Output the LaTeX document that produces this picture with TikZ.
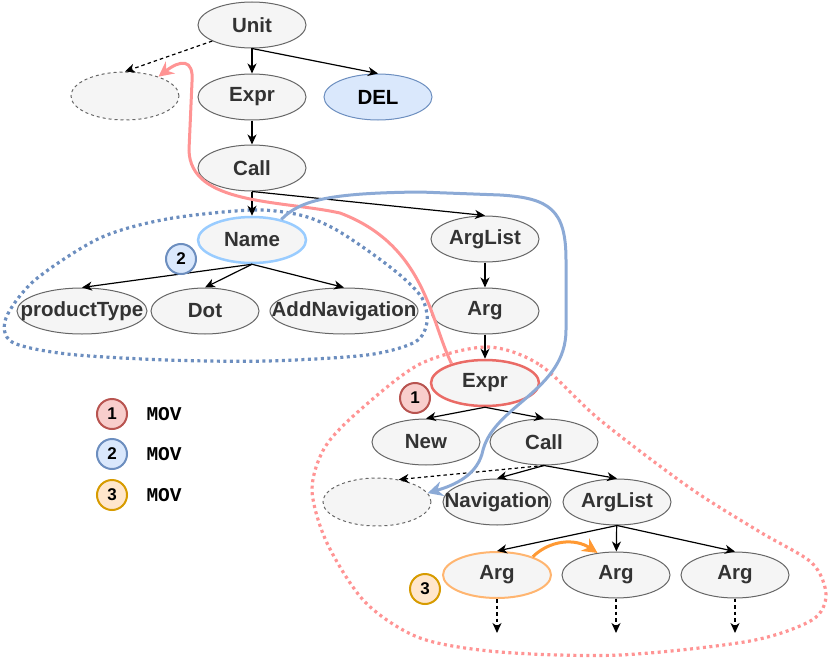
\documentclass[tikz,border=0pt]{standalone}
\usepackage{fontspec}
\setmainfont{Liberation Sans}
\setmonofont{Liberation Mono}
\usetikzlibrary{shapes.geometric,arrows.meta}
\definecolor{nodefill}{HTML}{F5F5F5}
\definecolor{nodeline}{HTML}{666666}
\definecolor{nodetext}{HTML}{333333}
\definecolor{bluefill}{HTML}{DAE8FC}
\definecolor{blueline}{HTML}{6C8EBF}
\definecolor{redfill}{HTML}{F8CECC}
\definecolor{redline}{HTML}{B85450}
\definecolor{orangefill}{HTML}{FFE6CC}
\definecolor{orangeline}{HTML}{D79B00}
\definecolor{namering}{HTML}{99CCFF}
\definecolor{exprring}{HTML}{EA6B66}
\definecolor{argring}{HTML}{FFB570}
\definecolor{redmove}{HTML}{FF9494}
\definecolor{bluemove}{HTML}{8CAAD6}
\definecolor{orangemove}{HTML}{FF9933}

\begin{document}
\begin{tikzpicture}[x=1pt,y=-1pt,
  ast/.style={ellipse,draw=nodeline,fill=nodefill,line width=1pt,minimum width=108pt,minimum height=46pt,
    inner xsep=-20pt,inner ysep=0pt,text=nodetext,font=\fontsize{20.5}{24}\selectfont\bfseries},
  hole/.style={ast,dashed,minimum height=48pt},
  edge/.style={line width=1.2pt,-{Stealth[length=10pt,width=9pt,inset=3pt]}},
  weak/.style={edge,dash pattern=on 3.5pt off 3pt},
  badge/.style={circle,line width=2pt,minimum size=30pt,inner sep=0pt,font=\fontsize{17}{20}\selectfont\bfseries},
  move/.style={line width=3pt,-{Stealth[length=15pt,width=15pt,inset=5pt]}},
  region/.style={line width=3.2pt,dash pattern=on 3pt off 3.5pt},
  legend/.style={anchor=west,font=\fontsize{19.5}{22}\selectfont\ttfamily\bfseries}]
  \useasboundingbox (0,0) rectangle (830,661);

  % regions of the moves
  \draw[region,blueline] plot[smooth cycle] coordinates {(252,210)(167,219)(100,238)(35,280)(6,318)(12,342)(67,354)(167,360)(267,361)(367,355)(415,342)(427,322)(422,298)(400,275)(367,250)(333,228)(300,215)};
  \draw[region,redmove] plot[smooth cycle] coordinates {(487,347)(540,365)(600,420)(690,488)(760,532)(812,563)(826,595)(812,620)(750,641)(620,655)(500,652)(420,638)(365,602)(327,543)(312,490)(325,447)(360,410)(420,364)};

  % tree
  \node[ast] (unit) at (252,25) {Unit};
  \node[hole] (emp1) at (125,96) {};
  \node[ast] (expra) at (252,97) {Expr};
  \node[ast,draw=blueline,fill=bluefill,text=black] (del) at (378,97) {DEL};
  \node[ast] (calla) at (252,168) {Call};
  \node[ast,draw=namering,line width=2.5pt] (name) at (252,240) {Name};
  \node[ast] (arglista) at (485,239) {ArgList};
  \node[ast,minimum width=130pt] (ptype) at (82,311) {productType};
  \node[ast] (dot) at (205,311) {Dot};
  \node[ast,minimum width=148pt] (addnav) at (344,311) {AddNavigation};
  \node[ast] (argx) at (485,311) {Arg};
  \node[ast,draw=exprring,line width=2.5pt] (exprb) at (485,383) {Expr};
  \node[ast] (new) at (426,442) {New};
  \node[ast] (callb) at (544,442) {Call};
  \node[hole] (emp2) at (377,502) {};
  \node[ast] (nav) at (497,502) {Navigation};
  \node[ast] (arglistb) at (617,502) {ArgList};
  \node[ast,draw=argring,line width=2pt] (argi) at (497,575) {Arg};
  \node[ast] (argii) at (616,575) {Arg};
  \node[ast] (argiii) at (735,575) {Arg};
  \coordinate (endi) at (497,633);
  \coordinate (endii) at (616,633);
  \coordinate (endiii) at (735,633);

  \draw[weak] (unit.202) -- (emp1.north);
  \draw[edge] (unit) -- (expra);
  \draw[edge] (unit.south) -- (del.north);
  \draw[edge] (expra) -- (calla);
  \draw[edge] (calla) -- (name);
  \draw[edge] (calla.south) -- (arglista.north);
  \draw[edge] (name.south) -- (ptype.north);
  \draw[edge] (name.south) -- (dot.north);
  \draw[edge] (name.south) -- (addnav.north);
  \draw[edge] (arglista) -- (argx);
  \draw[edge] (argx) -- (exprb);
  \draw[edge] (exprb.south) -- (new.north);
  \draw[edge] (exprb.south) -- (callb.north);
  \draw[weak] (callb.south) -- (emp2.46);
  \draw[edge] (callb.south) -- (nav.north);
  \draw[edge] (callb.south) -- (arglistb.north);
  \draw[edge] (arglistb.south) -- (argi.north);
  \draw[edge] (arglistb) -- (argii);
  \draw[edge] (arglistb.south) -- (argiii.north);
  \draw[weak] (argi) -- (endi);
  \draw[weak] (argii) -- (endii);
  \draw[weak] (argiii) -- (endiii);

  % moves
  \draw[move,redmove] (exprb.150) .. controls (430,320) and (425,245) .. (340,213)
    .. controls (280,200) and (190,205) .. (189,150) -- (192,82)
    .. controls (194,58) and (180,60) .. (emp1.30);
  \draw[move,bluemove] (name.35) .. controls (300,200) and (330,193) .. (420,192) -- (500,195)
    .. controls (550,198) and (566,210) .. (566,260) -- (566,330)
    .. controls (566,390) and (495,405) .. (483,450)
    .. controls (478,475) and (455,485) .. (emp2.10);
  \draw[move,orangemove] (argi.27) .. controls (550,540) and (575,538) .. (argii.130);

  % badges
  \node[badge,draw=blueline,fill=bluefill] (b2) at (181,259) {2};
  \node[badge,draw=redline,fill=redfill] (b1) at (415,398) {1};
  \node[badge,draw=orangeline,fill=orangefill] (b3) at (425,589) {3};

  % legend
  \node[badge,draw=redline,fill=redfill] (l1) at (112,414) {1};
  \node[badge,draw=blueline,fill=bluefill] (l2) at (112,454) {2};
  \node[badge,draw=orangeline,fill=orangefill] (l3) at (112,495) {3};
  \node[legend] (t1) at (143,414) {MOV};
  \node[legend] (t2) at (143,454) {MOV};
  \node[legend] (t3) at (143,495) {MOV};
\end{tikzpicture}
\end{document}
